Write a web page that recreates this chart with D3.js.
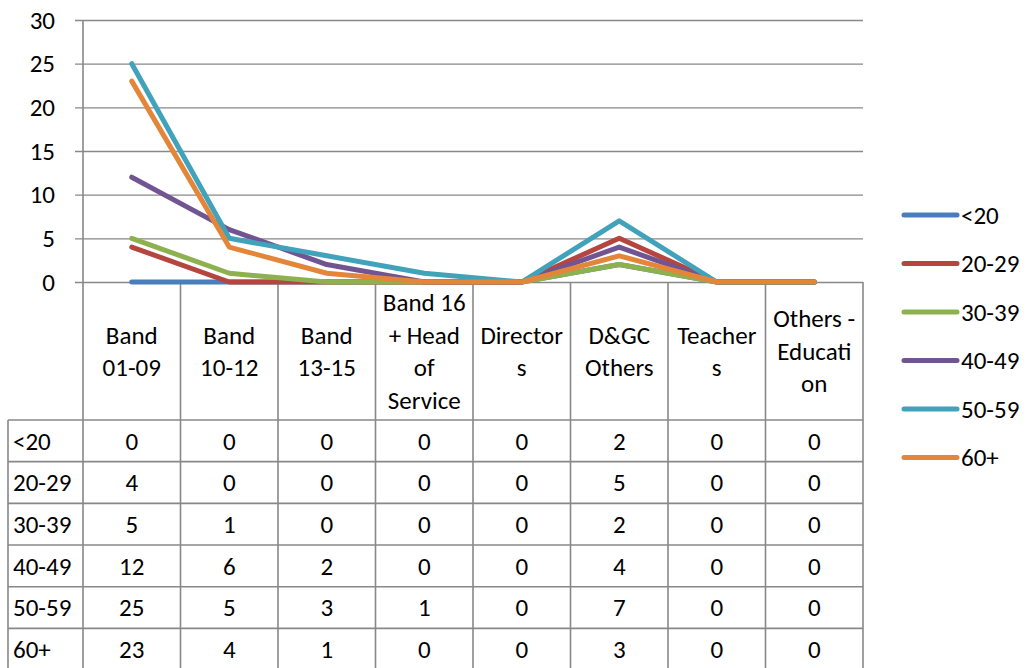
<!DOCTYPE html>
<html>
<head>
<meta charset="utf-8">
<script src="https://cdn.jsdelivr.net/npm/d3@7"></script>
<style>
  html, body { margin: 0; padding: 0; background: #fff; }
  svg { display: block; font-family: Carlito, Calibri, Lato, "Liberation Sans", sans-serif; }
</style>
</head>
<body>
<svg id="chart" width="1027" height="668"></svg>
<script>
// Job bands (table columns / x categories)
const categories = [
  ["Band", "01-09"],
  ["Band", "10-12"],
  ["Band", "13-15"],
  ["Band 16", "+ Head", "of", "Service"],
  ["Director", "s"],
  ["D&GC", "Others"],
  ["Teacher", "s"],
  ["Others -", "Educati", "on"]
];

// Age groups (series)
const seriesNames = ["<20", "20-29", "30-39", "40-49", "50-59", "60+"];
const seriesColors = ["#4A7EBB", "#B4453F", "#8EB14F", "#715593", "#41A2BB", "#E4863A"];

// Headcount per band for each age group
const ageUnder20 = [0, 0, 0, 0, 0, 2, 0, 0];
const age20to29  = [4, 0, 0, 0, 0, 5, 0, 0];
const age30to39  = [5, 1, 0, 0, 0, 2, 0, 0];
const age40to49  = [12, 6, 2, 0, 0, 4, 0, 0];
const age50to59  = [25, 5, 3, 1, 0, 7, 0, 0];
const age60plus  = [23, 4, 1, 0, 0, 3, 0, 0];

const yTicks = [0, 5, 10, 15, 20, 25, 30];

const seriesValues = [ageUnder20, age20to29, age30to39, age40to49, age50to59, age60plus];

const svg = d3.select("#chart");

const plotLeft = 83, plotRight = 863, plotTop = 20, plotBottom = 282;
const headerBottom = 420, rowH = 41.67, tableLeft = 8;
const gridColor = "#888888";
const fontSize = 25;
const fontStack = "Carlito, Calibri, Lato, 'Liberation Sans', sans-serif";

const x = d3.scaleBand()
  .domain(d3.range(categories.length))
  .range([plotLeft, plotRight])
  .paddingInner(0).paddingOuter(0);

const y = d3.scaleLinear().domain([0, 30]).range([plotBottom, plotTop]);

// Horizontal gridlines with tick marks and labels
const axis = svg.append("g")
  .attr("transform", `translate(${plotRight},0)`)
  .call(d3.axisLeft(y).tickValues(yTicks).tickSize(plotRight - 75).tickPadding(20));
axis.attr("font-size", null).attr("font-family", null);
axis.select(".domain").remove();
axis.selectAll(".tick line").attr("stroke", gridColor).attr("stroke-width", 1.4);
axis.selectAll(".tick text")
  .attr("fill", "#000")
  .style("font-size", fontSize + "px")
  .style("font-family", fontStack);

// Data table grid
const grid = svg.append("g").attr("stroke", gridColor).attr("stroke-width", 1.6).attr("fill", "none");
const tableBottom = headerBottom + rowH * seriesNames.length;

// vertical axis line through plot and table
grid.append("line").attr("x1", plotLeft).attr("x2", plotLeft).attr("y1", plotTop).attr("y2", tableBottom);
// column separators below the plot
d3.range(1, categories.length + 1).forEach(i => {
  const xx = x(i - 1) + x.bandwidth();
  grid.append("line").attr("x1", xx).attr("x2", xx).attr("y1", plotBottom).attr("y2", tableBottom);
});
// left border of row labels
grid.append("line").attr("x1", tableLeft).attr("x2", tableLeft).attr("y1", headerBottom).attr("y2", tableBottom);
// row separators
d3.range(seriesNames.length + 1).forEach(r => {
  const yy = headerBottom + r * rowH;
  grid.append("line").attr("x1", tableLeft).attr("x2", plotRight).attr("y1", yy).attr("y2", yy);
});

// Column headers
const headerMid = (plotBottom + headerBottom) / 2;
const lineH = 32.5;
categories.forEach((lines, i) => {
  const t = svg.append("text")
    .attr("text-anchor", "middle")
    .attr("font-size", fontSize)
    .attr("fill", "#000");
  lines.forEach((ln, k) => {
    t.append("tspan")
      .attr("x", x(i) + x.bandwidth() / 2)
      .attr("y", headerMid + (k - (lines.length - 1) / 2) * lineH)
      .attr("dy", "0.35em")
      .text(ln);
  });
});

// Row labels and values
seriesNames.forEach((name, r) => {
  const cy = headerBottom + r * rowH + rowH / 2;
  svg.append("text")
    .attr("x", 13).attr("y", cy).attr("dy", "0.35em")
    .attr("font-size", fontSize).attr("fill", "#000")
    .text(name);
  seriesValues[r].forEach((v, i) => {
    svg.append("text")
      .attr("x", x(i) + x.bandwidth() / 2).attr("y", cy).attr("dy", "0.35em")
      .attr("text-anchor", "middle")
      .attr("font-size", fontSize).attr("fill", "#000")
      .text(v);
  });
});

// Series lines
const line = d3.line()
  .x((d, i) => x(i) + x.bandwidth() / 2)
  .y(d => y(d));

seriesValues.forEach((vals, s) => {
  svg.append("path")
    .datum(vals)
    .attr("d", line)
    .attr("fill", "none")
    .attr("stroke", seriesColors[s])
    .attr("stroke-width", 5)
    .attr("stroke-linejoin", "round")
    .attr("stroke-linecap", "round");
});

// Legend
const legendY0 = 215, legendStep = 48.5;
seriesNames.forEach((name, s) => {
  const ly = legendY0 + s * legendStep;
  svg.append("line")
    .attr("x1", 904).attr("x2", 957)
    .attr("y1", ly).attr("y2", ly)
    .attr("stroke", seriesColors[s])
    .attr("stroke-width", 5)
    .attr("stroke-linecap", "round");
  svg.append("text")
    .attr("x", 961).attr("y", ly).attr("dy", "0.35em")
    .attr("font-size", fontSize).attr("fill", "#000")
    .text(name);
});
</script>
</body>
</html>
